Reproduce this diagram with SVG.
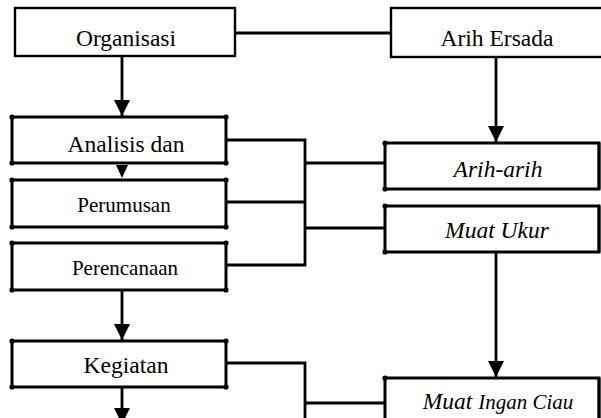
<svg xmlns="http://www.w3.org/2000/svg" width="601" height="418" viewBox="0 0 601 418">
<style>
.thin{fill:#fff;stroke:#000;stroke-width:2.4}
.box{fill:#fff;stroke:#000;stroke-width:3}
.ln{fill:none;stroke:#000;stroke-width:2.8}
.dot{fill:#000}
.t{font-family:"Liberation Serif","Times New Roman",serif;font-size:23.5px;fill:#000;text-anchor:middle}
.s{font-size:21px}
.i{font-style:italic}
</style>
<defs>
<marker id="ah" markerUnits="userSpaceOnUse" markerWidth="16" markerHeight="17" refX="16" refY="8" orient="auto">
<path d="M0,0 L16,8 L0,16 Z" fill="#000"/>
</marker>
</defs>
<g id="connectors">
<line class="ln" x1="235" y1="33" x2="391" y2="33"/>
<line class="ln" x1="122" y1="57" x2="122" y2="116" marker-end="url(#ah)"/>
<path d="M116,165 L128,165 L122,178 Z" fill="#000"/>
<line class="ln" x1="122" y1="290" x2="122" y2="340" marker-end="url(#ah)"/>
<line class="ln" x1="122" y1="387" x2="122" y2="424" marker-end="url(#ah)"/>
<line class="ln" x1="496" y1="57" x2="496" y2="142" marker-end="url(#ah)"/>
<line class="ln" x1="496" y1="252" x2="496" y2="377" marker-end="url(#ah)"/>
<path class="ln" d="M226,140 H305 V265 H226 M226,202 H305 M305,163 H385 M305,228 H385"/>
<path class="ln" d="M226,363 H305 V420 M305,403 H385"/>
</g>
<g id="organisasi">
<rect class="thin" x="15" y="8" width="220" height="48"/>
<text class="t" x="126" y="46">Organisasi</text>
</g>
<g id="arih-ersada">
<rect class="thin" x="391" y="8" width="215" height="49"/>
<text class="t" x="497" y="46">Arih Ersada</text>
</g>
<g id="analisis">
<rect class="box" x="12" y="117" width="214" height="46"/>
<circle class="dot" cx="12" cy="117" r="2.6"/><circle class="dot" cx="226" cy="117" r="2.6"/>
<circle class="dot" cx="12" cy="163" r="2.6"/><circle class="dot" cx="226" cy="163" r="2.6"/>
<text class="t" x="126" y="152">Analisis dan</text>
</g>
<g id="perumusan">
<rect class="box" x="12" y="180" width="214" height="47"/>
<circle class="dot" cx="12" cy="180" r="2.6"/><circle class="dot" cx="226" cy="180" r="2.6"/>
<circle class="dot" cx="12" cy="227" r="2.6"/><circle class="dot" cx="226" cy="227" r="2.6"/>
<text class="t s" x="124" y="212">Perumusan</text>
</g>
<g id="perencanaan">
<rect class="box" x="12" y="243" width="214" height="47"/>
<circle class="dot" cx="12" cy="243" r="2.6"/><circle class="dot" cx="226" cy="243" r="2.6"/>
<circle class="dot" cx="12" cy="290" r="2.6"/><circle class="dot" cx="226" cy="290" r="2.6"/>
<text class="t s" x="125" y="275">Perencanaan</text>
</g>
<g id="kegiatan">
<rect class="box" x="12" y="341" width="214" height="46"/>
<circle class="dot" cx="12" cy="341" r="2.6"/><circle class="dot" cx="226" cy="341" r="2.6"/>
<circle class="dot" cx="12" cy="387" r="2.6"/><circle class="dot" cx="226" cy="387" r="2.6"/>
<text class="t" x="126" y="373">Kegiatan</text>
</g>
<g id="arih-arih">
<rect class="box" x="385" y="143" width="214" height="46"/>
<line class="ln" x1="599" y1="143" x2="599" y2="189" stroke-width="4"/>
<circle class="dot" cx="385" cy="143" r="2.6"/><circle class="dot" cx="385" cy="189" r="2.6"/>
<text class="t i" x="498" y="177">Arih-arih</text>
</g>
<g id="muat-ukur">
<rect class="box" x="385" y="206" width="214" height="46"/>
<line class="ln" x1="599" y1="206" x2="599" y2="252" stroke-width="4"/>
<circle class="dot" cx="385" cy="206" r="2.6"/><circle class="dot" cx="385" cy="252" r="2.6"/>
<text class="t i" x="497" y="238">Muat Ukur</text>
</g>
<g id="muat-ingan-ciau">
<rect class="box" x="385" y="378" width="214" height="50"/>
<line class="ln" x1="599" y1="378" x2="599" y2="420" stroke-width="4"/>
<circle class="dot" cx="385" cy="378" r="2.6"/>
<text class="t i" x="498" y="409">Muat <tspan class="s">Ingan Ciau</tspan></text>
</g>
</svg>
